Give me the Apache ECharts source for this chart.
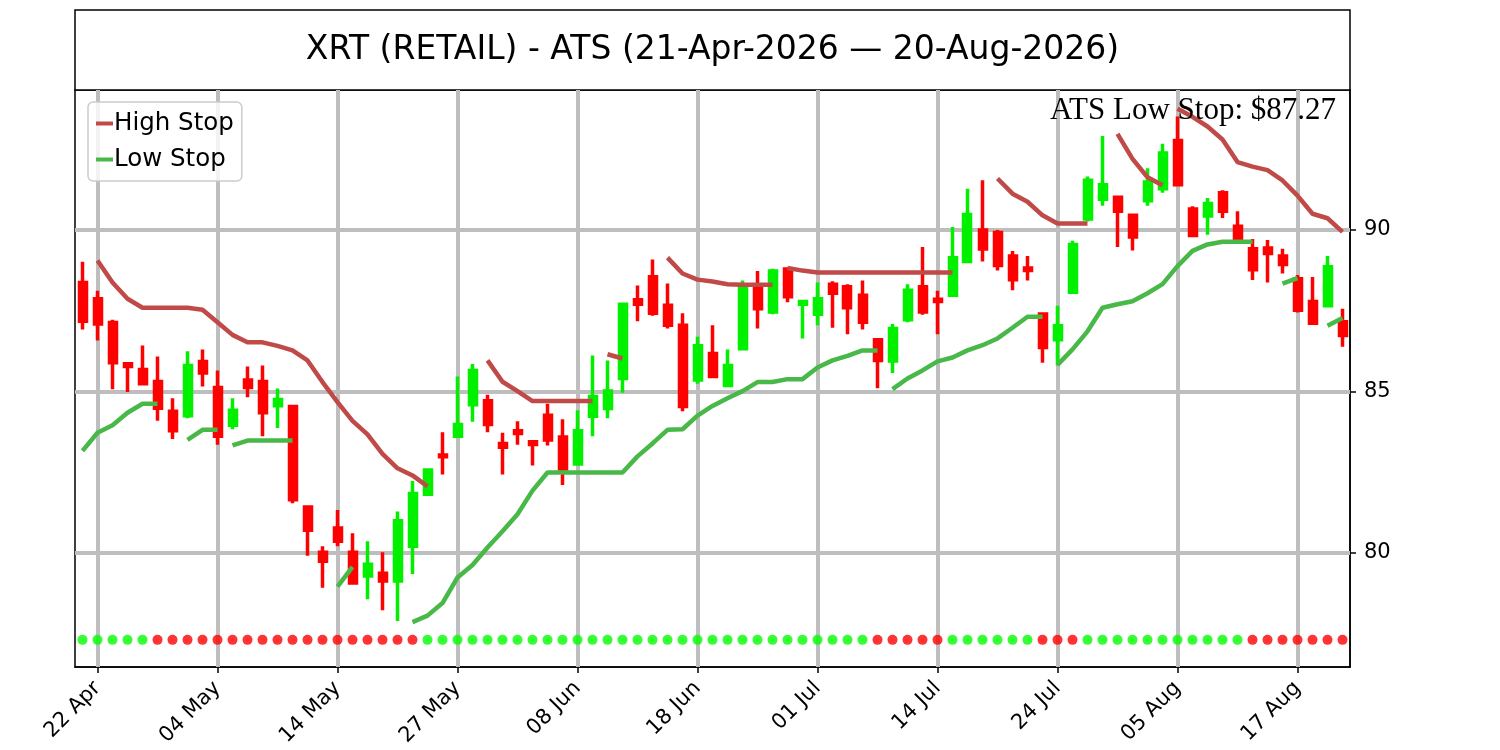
<!DOCTYPE html>
<html lang="en">
<head>
<meta charset="UTF-8">
<title>XRT (RETAIL) - ATS</title>
<script src="https://cdn.jsdelivr.net/npm/echarts@6/dist/echarts.min.js"></script>
<style>
    html, body { margin: 0; padding: 0; background: #fff; }
    #chart { width: 1500px; height: 750px; }
</style>
</head>
<body>
<div id="chart"></div>
<script>
// trading days, 21 Apr 2026 - 20 Aug 2026
var dates = ['21 Apr', '22 Apr', '23 Apr', '24 Apr', '27 Apr', '28 Apr', '29 Apr', '30 Apr', '01 May',
    '04 May', '05 May', '06 May', '07 May', '08 May', '11 May', '12 May', '13 May', '14 May', '15 May',
    '18 May', '19 May', '20 May', '21 May', '22 May', '26 May', '27 May', '28 May', '29 May',
    '01 Jun', '02 Jun', '03 Jun', '04 Jun', '05 Jun', '08 Jun', '09 Jun', '10 Jun', '11 Jun', '12 Jun',
    '15 Jun', '16 Jun', '17 Jun', '18 Jun', '22 Jun', '23 Jun', '24 Jun', '25 Jun', '26 Jun', '29 Jun', '30 Jun',
    '01 Jul', '02 Jul', '06 Jul', '07 Jul', '08 Jul', '09 Jul', '10 Jul', '13 Jul', '14 Jul', '15 Jul',
    '16 Jul', '17 Jul', '20 Jul', '21 Jul', '22 Jul', '23 Jul', '24 Jul', '27 Jul', '28 Jul', '29 Jul',
    '30 Jul', '31 Jul', '03 Aug', '04 Aug', '05 Aug', '06 Aug', '07 Aug', '10 Aug', '11 Aug', '12 Aug',
    '13 Aug', '14 Aug', '17 Aug', '18 Aug', '19 Aug', '20 Aug'];

var opens = [88.37, 87.87, 87.13, 85.86, 85.68, 85.31, 84.39, 84.25, 85.93, 85.12,
    83.95, 85.35, 85.31, 84.56, 84.53, 81.42, 80.02, 80.77, 80.02, 79.29,
    79.37, 79.13, 80.21, 81.82, 83.03, 83.61, 84.59, 84.71, 83.39, 83.78,
    83.44, 84.26, 83.59, 82.75, 84.23, 84.47, 85.40, 87.84, 88.55, 87.67,
    87.05, 85.35, 86.17, 85.18, 86.32, 88.21, 87.46, 88.79, 87.70, 87.39,
    88.32, 88.24, 87.98, 86.60, 85.94, 87.22, 88.24, 87.85, 87.98, 89.02,
    90.00, 89.92, 89.19, 88.82, 87.40, 86.60, 88.07, 90.34, 90.95, 91.01,
    90.45, 90.90, 91.27, 92.77, 90.65, 90.43, 91.15, 90.11, 89.42, 89.44,
    89.19, 88.49, 87.78, 87.65, 87.16];
var highs = [89.01, 88.12, 87.22, 85.91, 86.42, 86.08, 84.79, 86.24, 86.30, 85.65,
    84.79, 85.77, 85.80, 85.09, 84.54, 81.48, 80.21, 81.33, 80.61, 80.36,
    80.02, 81.28, 82.23, 82.60, 83.74, 85.46, 85.85, 84.90, 83.72, 84.08,
    83.44, 84.62, 84.14, 84.42, 86.11, 85.96, 87.70, 88.28, 89.08, 88.34,
    87.42, 86.69, 87.05, 86.30, 88.43, 88.73, 88.80, 88.82, 87.78, 88.37,
    88.41, 88.32, 88.43, 86.60, 87.09, 88.32, 89.47, 88.12, 90.09, 91.27,
    91.54, 90.00, 89.35, 89.19, 87.40, 87.65, 89.66, 91.65, 92.91, 91.01,
    90.45, 91.91, 92.67, 93.51, 90.73, 90.99, 91.23, 90.58, 89.72, 89.69,
    89.42, 88.60, 88.54, 89.19, 87.56];
var lows = [86.92, 86.58, 85.07, 84.98, 85.24, 84.09, 83.53, 84.17, 85.15, 83.35,
    83.83, 84.82, 83.61, 83.87, 81.54, 79.91, 78.92, 80.21, 79.07, 78.57,
    78.23, 77.89, 79.35, 81.82, 82.43, 83.61, 84.06, 83.74, 82.43, 83.35,
    82.71, 83.33, 82.10, 82.71, 83.61, 84.17, 84.96, 87.17, 87.34, 86.95,
    84.39, 85.24, 85.46, 85.18, 86.32, 86.95, 87.39, 87.76, 86.64, 87.05,
    86.97, 86.77, 86.92, 85.10, 85.57, 87.14, 87.37, 86.77, 87.98, 89.02,
    89.02, 88.74, 88.13, 88.43, 85.89, 85.80, 88.07, 90.26, 90.75, 89.47,
    89.36, 90.75, 91.15, 91.40, 89.80, 89.85, 90.37, 89.63, 88.45, 88.37,
    88.65, 87.44, 87.09, 87.65, 86.38];
var closes = [87.17, 87.09, 85.89, 85.77, 85.24, 84.48, 83.78, 85.80, 85.57, 83.61,
    84.42, 85.12, 84.34, 84.75, 81.65, 80.70, 79.74, 80.36, 79.07, 79.65,
    79.13, 81.00, 81.84, 82.57, 82.98, 83.98, 85.65, 83.98, 83.27, 83.70,
    83.36, 83.50, 82.60, 83.78, 84.84, 85.01, 87.70, 87.70, 87.42, 87.05,
    84.53, 86.41, 85.46, 85.80, 88.26, 87.56, 88.73, 87.93, 87.78, 87.87,
    88.04, 87.59, 87.14, 85.96, 86.95, 88.13, 87.46, 87.78, 89.14, 90.48,
    89.41, 88.90, 88.46, 88.74, 86.36, 87.03, 89.55, 91.54, 91.40, 90.58,
    89.78, 91.48, 92.38, 91.40, 89.83, 90.82, 90.58, 89.70, 88.77, 89.27,
    88.93, 87.51, 87.11, 88.86, 86.73];

// ATS stops (null = no stop that day); breaks = index where a new stop run starts
var highStop = [null, 89.05, 88.37, 87.87, 87.59, 87.59, 87.59, 87.59, 87.53, 87.14,
    86.75, 86.52, 86.52, 86.41, 86.27, 85.96, 85.29, 84.67, 84.09, 83.67,
    83.07, 82.62, 82.40, 82.06, null, null, null, 85.96, 85.30, 85.01,
    84.70, 84.70, 84.70, 84.70, 84.70, 86.15, 86.02, null, null, 89.14,
    88.65, 88.46, 88.40, 88.32, 88.30, 88.30, 88.30, 88.82, 88.74, 88.68,
    88.68, 88.68, 88.68, 88.68, 88.68, 88.68, 88.68, 88.68, 88.68, null,
    null, 91.59, 91.12, 90.87, 90.45, 90.20, 90.20, 90.20, null, 92.97,
    92.20, 91.63, 91.38, 93.75, 93.50, 93.20, 92.80, 92.10, 91.96, 91.85,
    91.53, 91.06, 90.50, 90.36, 89.94];
var highBreaks = [35, 47, 73];
var lowStop = [83.16, 83.72, 83.95, 84.34, 84.62, 84.62, null, 83.50, 83.81, 83.81,
    83.33, 83.48, 83.48, 83.48, 83.48, null, null, 78.96, 79.57, null,
    null, null, 77.86, 78.06, 78.45, 79.24, 79.63, 80.17, 80.67, 81.20,
    81.93, 82.49, 82.49, 82.49, 82.49, 82.49, 82.49, 82.99, 83.39, 83.81,
    83.83, 84.25, 84.55, 84.79, 85.01, 85.29, 85.29, 85.38, 85.38, 85.74,
    85.96, 86.10, 86.27, 86.27, 85.07, 85.40, 85.65, 85.93, 86.05, 86.27,
    86.43, 86.64, 86.97, 87.31, 87.31, 85.82, 86.30, 86.86, 87.59, 87.70,
    87.79, 88.04, 88.32, 88.88, 89.35, 89.55, 89.63, 89.63, 89.63, null,
    88.34, 88.51, null, 87.03, 87.27];
var lowBreaks = [10, 54, 65];

// daily trend signal: g = long, r = short
var signals = 'gggggrrrrrrrrrrrrrrrrrrggggggggggggggggggggggggggggggrrrrrggggggrrrgggggggggggrrrrrrr'.split('');
var signalLevel = 77.31;

var xTickLabels = ['22 Apr', '04 May', '14 May', '27 May', '08 Jun', '18 Jun', '01 Jul', '14 Jul', '24 Jul', '05 Aug', '17 Aug'];
var yTicks = [80, 85, 90];
var yMin = 76.47, yMax = 94.33;

var upColor = '#00f000', downColor = '#ff0000';
var highColor = '#bf4a48', lowColor = '#48b848';

function isTick(idx) {
    return xTickLabels.indexOf(dates[idx]) >= 0;
}

function segments(values, breaks) {
    var out = [], cur = null;
    values.forEach(function (v, i) {
        if (v == null) { cur = null; return; }
        if (!cur || breaks.indexOf(i) >= 0) {
            cur = values.map(function () { return null; });
            out.push(cur);
        }
        cur[i] = v;
    });
    return out;
}

function stopSeries(name, color, values, breaks) {
    return segments(values, breaks).map(function (seg) {
        return {
            name: name,
            type: 'line',
            data: seg,
            symbol: 'none',
            connectNulls: false,
            silent: true,
            z: 4,
            lineStyle: { color: color, width: 4.5 },
            itemStyle: { color: color }
        };
    });
}

var candles = dates.map(function (d, i) {
    return [opens[i], closes[i], lows[i], highs[i]];
});

var dots = dates.map(function (d, i) {
    return { value: [i, signalLevel], itemStyle: { color: signals[i] === 'g' ? '#00ff00' : downColor } };
});

var gridMarks = yTicks.map(function (v) { return { yAxis: v }; })
    .concat(xTickLabels.map(function (d) { return { xAxis: d }; }));

var chart = echarts.init(document.getElementById('chart'));

var series = [{
    type: 'line',
    data: [],
    z: 1,
    silent: true,
    markLine: {
        z: 1,
        silent: true,
        symbol: ['none', 'none'],
        label: { show: false },
        lineStyle: { color: '#bebebe', width: 4, type: 'solid' },
        emphasis: { disabled: true },
        data: gridMarks
    }
}, {
    type: 'candlestick',
    data: candles,
    z: 3,
    silent: true,
    barWidth: 7.5,
    itemStyle: {
        color: upColor,
        color0: downColor,
        borderColor: upColor,
        borderColor0: downColor,
        borderWidth: 3.5
    }
}, {
    type: 'scatter',
    data: dots,
    symbolSize: 10,
    z: 5,
    silent: true
}];
series = series.concat(stopSeries('High Stop', highColor, highStop, highBreaks));
series = series.concat(stopSeries('Low Stop', lowColor, lowStop, lowBreaks));

chart.setOption({
    animation: false,
    textStyle: { fontFamily: 'DejaVu Sans' },
    grid: {
        left: 75, right: 150, top: 90, bottom: 83,
        show: true, borderColor: '#000', borderWidth: 1.5, backgroundColor: '#fff'
    },
    legend: {
        data: [
            { name: 'High Stop', icon: 'rect', itemStyle: { color: highColor } },
            { name: 'Low Stop', icon: 'rect', itemStyle: { color: lowColor } }
        ],
        orient: 'vertical',
        left: 88, top: 102,
        itemWidth: 17, itemHeight: 4, itemGap: 11,
        padding: [9, 8, 9, 8],
        backgroundColor: 'rgba(255,255,255,0.8)',
        borderColor: '#cccccc', borderWidth: 1.5, borderRadius: 5,
        selectedMode: false,
        z: 6,
        textStyle: { fontSize: 24.5, color: '#000', fontFamily: 'DejaVu Sans', padding: [0, 0, 0, -4] }
    },
    xAxis: {
        type: 'category',
        data: dates,
        boundaryGap: true,
        axisLine: { show: true, lineStyle: { color: '#000', width: 1.5 } },
        axisTick: { show: true, alignWithLabel: true, interval: isTick, length: 6, lineStyle: { color: '#000', width: 1.5 } },
        axisLabel: { interval: isTick, rotate: 45, fontSize: 21, color: '#000', margin: 18 },
        splitLine: { show: false }
    },
    yAxis: {
        type: 'value',
        position: 'right',
        min: yMin, max: yMax,
        axisLine: { show: true, lineStyle: { color: '#000', width: 1.5 } },
        axisTick: { show: true, length: 6, customValues: yTicks, lineStyle: { color: '#000', width: 1.5 } },
        axisLabel: { customValues: yTicks, fontSize: 21, color: '#000', margin: 14 },
        splitLine: { show: false }
    },
    graphic: [{
        type: 'rect',
        shape: { x: 75, y: 10, width: 1275, height: 80 },
        style: { fill: '#fff', stroke: '#000', lineWidth: 1.5 },
        silent: true
    }, {
        type: 'text',
        x: 712.5, y: 50,
        style: {
            text: 'XRT (RETAIL) - ATS (21-Apr-2026 \u2014 20-Aug-2026)',
            fill: '#000',
            font: '33px "DejaVu Sans"',
            textAlign: 'center',
            textVerticalAlign: 'middle'
        },
        silent: true
    }, {
        type: 'text',
        x: 1336, y: 111,
        z: 10,
        style: {
            text: 'ATS Low Stop: $' + lowStop[lowStop.length - 1].toFixed(2),
            fill: '#000',
            font: '31px "Liberation Serif"',
            textAlign: 'right',
            textVerticalAlign: 'middle'
        },
        silent: true
    }],
    series: series
});
</script>
</body>
</html>
